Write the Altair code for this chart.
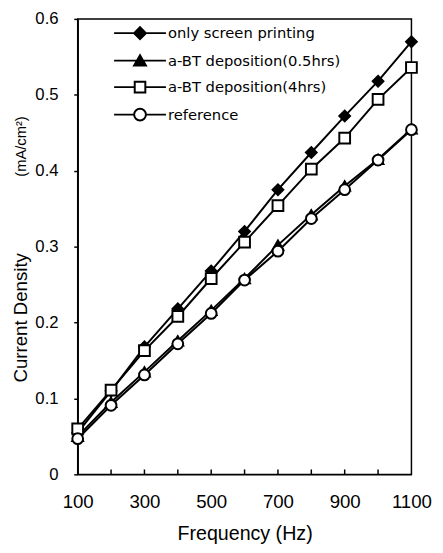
import altair as alt
import pandas as pd

freq = [100, 200, 300, 400, 500, 600, 700, 800, 900, 1000, 1100]
series = ["only screen printing", "a-BT deposition(0.5hrs)", "a-BT deposition(4hrs)", "reference"]
only_screen = [0.055, 0.110, 0.168, 0.218, 0.268, 0.320, 0.375, 0.424, 0.472, 0.518, 0.570]
half_hr = [0.050, 0.095, 0.135, 0.176, 0.216, 0.258, 0.302, 0.342, 0.380, 0.415, 0.455]
four_hr = [0.060, 0.111, 0.163, 0.208, 0.258, 0.306, 0.354, 0.402, 0.443, 0.494, 0.536]
reference = [0.047, 0.091, 0.131, 0.172, 0.212, 0.256, 0.294, 0.337, 0.375, 0.414, 0.454]
x_label_values = [100, 300, 500, 700, 900, 1100]
x_minor_ticks = [200, 300, 400, 500, 600, 700, 800, 900, 1000]
y_values = [0, 0.1, 0.2, 0.3, 0.4, 0.5, 0.6]
unit_label = ["(mA/cm²)"]

rows = []
for name, vals in zip(series, [only_screen, half_hr, four_hr, reference]):
    for f, v in zip(freq, vals):
        rows.append({"series": name, "freq": f, "density": v})
df = pd.DataFrame(rows)

shapes = ["diamond", "triangle-up", "square", "circle"]
fills = ["black", "black", "white", "white"]
strokes = ["black", "black", "black", "black"]
legend_paths = [
    "M-4.4,0H-1M1,0H4.4M-1,0L0,-1L1,0L0,1Z",
    "M-4.4,0H4.4M0,-0.9L1,0.85L-1,0.85Z",
    "M-4.4,0H-0.9M0.9,0H4.4M-0.9,-0.9H0.9V0.9H-0.9Z",
    "M-4.4,0H-1M1,0H4.4M1,0A1,1,0,1,1,-1,0A1,1,0,1,1,1,0Z",
]

FONT = "Liberation Sans"

x = alt.X(
    "freq:Q",
    scale=alt.Scale(domain=[100, 1100], nice=False, zero=False),
    axis=alt.Axis(
        values=x_label_values, ticks=False, grid=False, format="d",
        labelFlush=False, labelOverlap=False,
        labelFontSize=19, labelPadding=19, labelFont=FONT, labelColor="black",
        title="Frequency (Hz)", titleFontSize=20, titleFontWeight="normal",
        titleFont=FONT, titleColor="black", titleY=50, titleBaseline="top",
        domainColor="black", domainWidth=1.5,
    ),
)
y = alt.Y(
    "density:Q",
    scale=alt.Scale(domain=[0, 0.6], nice=False),
    axis=alt.Axis(
        values=y_values, format=".1~f", grid=False,
        labelFlush=False, labelOverlap=False,
        tickSize=4, tickColor="black", tickWidth=1.5,
        labelFontSize=17, labelPadding=16, labelFont=FONT, labelColor="black",
        title="Current Density", titleFontSize=19, titleFontWeight="normal",
        titleFont=FONT, titleColor="black", titleX=-58, titleY=304,
        titleBaseline="middle", titleAlign="center", titleAngle=270,
        domainColor="black", domainWidth=1.5,
    ),
)

base = alt.Chart(df)

lines = base.mark_line(color="black", strokeWidth=2).encode(x=x, y=y, detail="series:N")

points = base.mark_point(filled=True, stroke="black", strokeWidth=2, size=120, opacity=1).encode(
    x=x, y=y,
    shape=alt.Shape("series:N", scale=alt.Scale(domain=series, range=shapes), legend=None),
    fill=alt.Fill("series:N", scale=alt.Scale(domain=series, range=fills), legend=None),
)

leg = alt.Legend(
    title=None, orient="none", legendX=56, legendY=7, padding=0,
    symbolSize=144, symbolStrokeWidth=2, symbolStrokeColor="black", symbolOpacity=1,
    labelFontSize=15, labelFont="DejaVu Sans", labelColor="black", labelOffset=21,
    rowPadding=8, labelLimit=400,
)
legend_layer = base.transform_filter("false").mark_point(
    filled=False, strokeWidth=2, opacity=1
).encode(
    x=x, y=y,
    shape=alt.Shape("series:N", scale=alt.Scale(domain=series, range=legend_paths), legend=leg),
    fill=alt.Fill("series:N", scale=alt.Scale(domain=series, range=fills), legend=leg),
    stroke=alt.Stroke("series:N", scale=alt.Scale(domain=series, range=strokes), legend=leg),
)

ticks_df = pd.DataFrame({"freq": x_minor_ticks})
xticks = alt.Chart(ticks_df).mark_rule(color="black", strokeWidth=1.5).encode(
    x=x, y=alt.value(464), y2=alt.value(459)
)

unit_df = pd.DataFrame({"t": unit_label})
unit = alt.Chart(unit_df).mark_text(
    angle=270, fontSize=15, font=FONT, color="black", baseline="middle", align="center"
).encode(x=alt.value(-58), y=alt.value(130), text="t:N")

chart = alt.layer(lines, points, xticks, unit, legend_layer).resolve_scale(
    shape="independent", fill="independent", stroke="independent"
).properties(
    width=340, height=464,
    autosize=alt.AutoSizeParams(type="none"),
    padding={"left": 71, "top": 6, "right": 24, "bottom": 75},
    background="white",
).configure_view(stroke="black", strokeWidth=1.5)

chart.save("out.html", embed_options={"renderer": "svg", "actions": False})
